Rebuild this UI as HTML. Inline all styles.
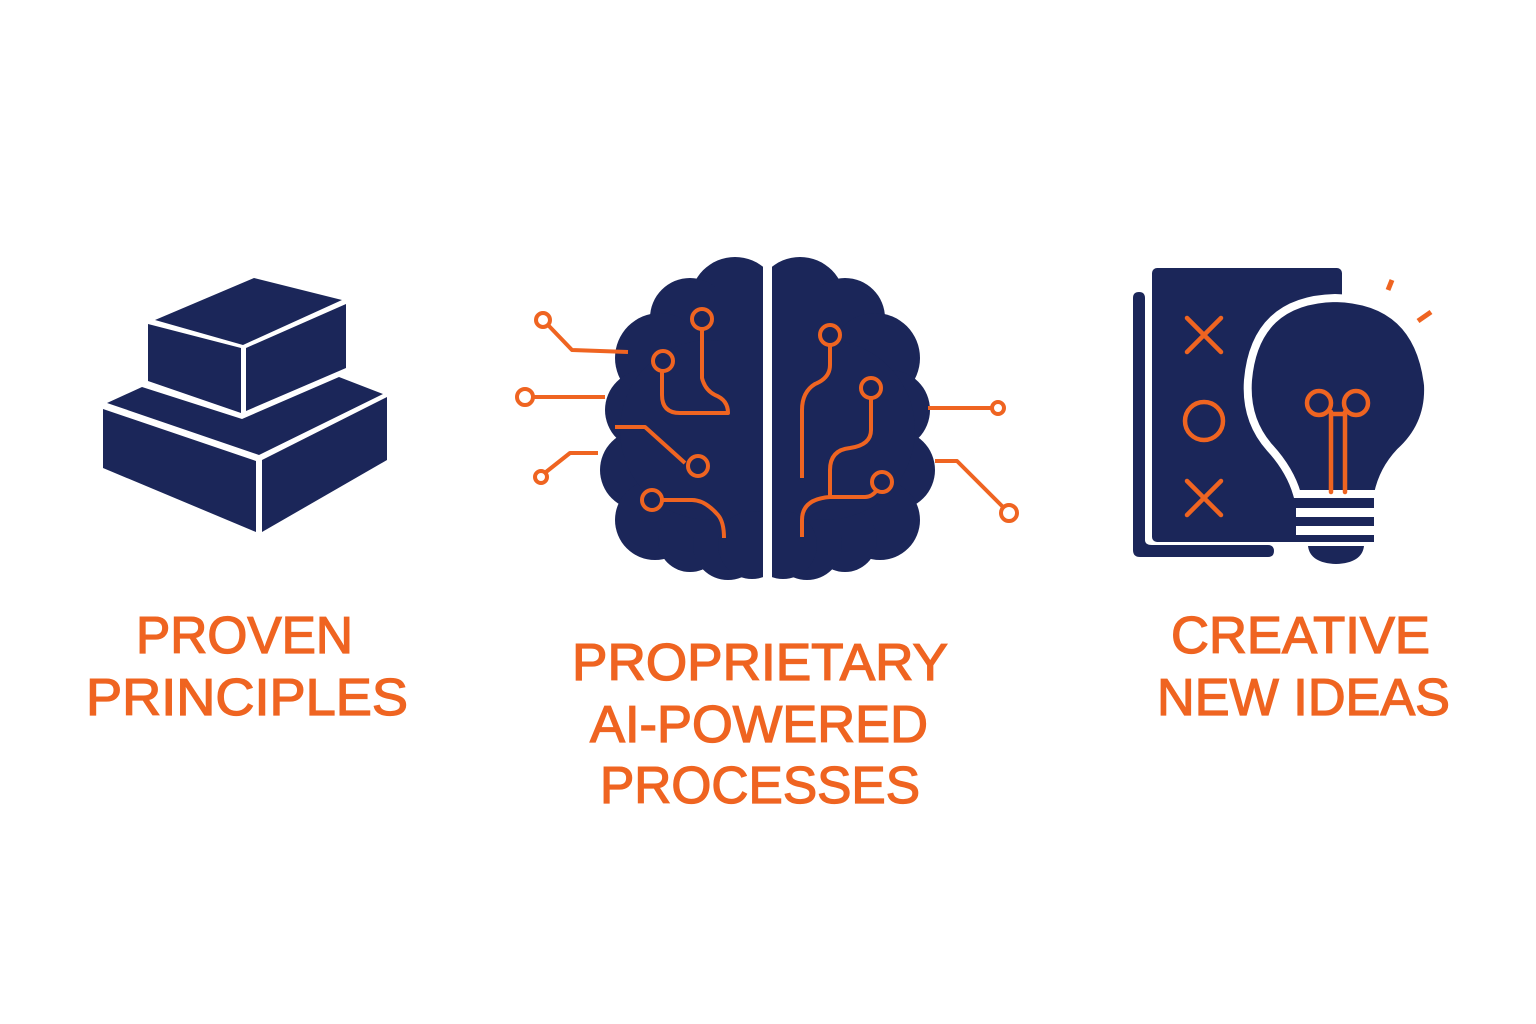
<!DOCTYPE html>
<html><head><meta charset="utf-8"><style>
html,body{margin:0;padding:0;background:#fff;}
svg{display:block;}
text{font-family:"Liberation Sans",sans-serif;fill:#ef6421;stroke:#ef6421;stroke-width:1.3px;font-size:52px;}
</style></head><body>
<svg width="1536" height="1024" viewBox="0 0 1536 1024" xmlns="http://www.w3.org/2000/svg">
<defs>
<clipPath id="cl"><rect x="580" y="240" width="183" height="360"/></clipPath>
<clipPath id="cr"><rect x="772" y="240" width="183" height="360"/></clipPath>
</defs>
<g fill="#1b2659">
<polygon points="107,403 142,387 242,419 339,377 383,394 259,455"/>
<polygon points="103,409 256,461 256,532 103,468"/>
<polygon points="262,460 387,397 387,460 262,532"/>
<polygon points="155,320 254,278 342,300 243,345"/>
<polygon points="148,324 241,348 241,413 148,381"/>
<polygon points="246,348 346,304 346,368 246,411"/>
</g>
<g fill="#1b2659" clip-path="url(#cl)">
<circle cx="735" cy="302" r="45"/><circle cx="690" cy="318" r="40"/><circle cx="660" cy="358" r="45"/>
<circle cx="645" cy="410" r="40"/><circle cx="640" cy="470" r="40"/><circle cx="655" cy="520" r="40"/>
<circle cx="690" cy="540" r="32"/><circle cx="728" cy="545" r="35"/><circle cx="710" cy="430" r="90"/>
<rect x="720" y="270" width="60" height="265"/><circle cx="752" cy="545" r="34"/>
</g>
<g fill="#1b2659" clip-path="url(#cr)">
<circle cx="800" cy="302" r="45"/><circle cx="845" cy="318" r="40"/><circle cx="875" cy="358" r="45"/>
<circle cx="890" cy="410" r="40"/><circle cx="895" cy="470" r="40"/><circle cx="880" cy="520" r="40"/>
<circle cx="845" cy="540" r="32"/><circle cx="807" cy="545" r="35"/><circle cx="825" cy="430" r="90"/>
<rect x="760" y="270" width="55" height="265"/><circle cx="783" cy="545" r="34"/>
</g>
<g fill="none" stroke="#ef6421" stroke-width="4" stroke-linejoin="round">
<circle cx="543" cy="320" r="7"/><path d="M548,325 L572,350 L628,352"/>
<circle cx="525" cy="397" r="8"/><path d="M533,397 L605,397"/>
<path d="M615,427 L645,427 L685,463"/><circle cx="698" cy="466" r="10"/>
<circle cx="541" cy="477" r="6"/><path d="M546,472 L570,453 L598,453"/>
<circle cx="702" cy="319" r="10"/><path d="M702,329 L702,378 Q705,390 715,395 Q728,400 728,413 L680,413 Q662,413 662,395 L662,371"/><circle cx="663" cy="361" r="10"/>
<circle cx="652" cy="500" r="10"/><path d="M662,500 L692,500 Q705,500 718,515 Q724,522 724,538"/>
<circle cx="830" cy="335" r="10"/><path d="M830,345 L830,365 Q830,378 815,384 Q802,392 802,410 L802,478"/>
<circle cx="871" cy="388" r="10"/><path d="M871,398 L871,430 Q871,445 850,448 Q830,450 830,470 L830,497"/>
<path d="M830,497 L865,497 Q872,497 877,490"/><circle cx="882" cy="482" r="10"/>
<path d="M830,497 Q802,499 802,520 L802,537"/>
<path d="M928,408 L992,408"/><circle cx="998" cy="408" r="6"/>
<path d="M935,461 L957,461 L1003,507"/><circle cx="1009" cy="513" r="8"/>
</g>
<g fill="#1b2659">
<path d="M1133,298 Q1133,292 1139,292 Q1145,292 1145,298 L1145,540 Q1145,545 1152,545 L1268,545 Q1274,545 1274,551 Q1274,557 1268,557 L1140,557 Q1133,557 1133,550 Z"/>
<rect x="1152" y="268" width="190" height="274" rx="5"/>
</g>
<path d="M1297,494 Q1290,470 1270,448 Q1245,420 1248,380 Q1255,300 1335,298 Q1418,300 1428,385 Q1430,425 1400,452 Q1383,470 1378,494 Z" fill="#1b2659" stroke="#fff" stroke-width="8"/>
<g fill="#fff">
<rect x="1296" y="508" width="78" height="9"/><rect x="1296" y="526" width="78" height="9"/><rect x="1296" y="542" width="78" height="4"/>
</g>
<g fill="#1b2659">
<rect x="1300" y="498" width="74" height="10"/><rect x="1300" y="517" width="74" height="9"/><rect x="1300" y="535" width="74" height="7"/>
<path d="M1308,546 L1364,546 Q1362,563 1336,564 Q1310,563 1308,546 Z"/>
</g>
<g fill="none" stroke="#ef6421" stroke-width="4.5" stroke-linecap="round">
<path d="M1187,318 L1221,352 M1221,318 L1187,352"/>
<circle cx="1204" cy="421" r="19"/>
<path d="M1187,481 L1221,515 M1221,481 L1187,515"/>
<circle cx="1319" cy="403" r="12"/><circle cx="1356" cy="403" r="12"/>
<path d="M1331,412 L1331,492 M1345,412 L1345,492 M1331,414 L1345,414"/>
<path d="M1388,290 L1392,280" stroke-width="5" stroke-linecap="butt"/>
<path d="M1418,321 L1431,312" stroke-width="5" stroke-linecap="butt"/>
</g>
<text x="136" y="653" textLength="217" lengthAdjust="spacingAndGlyphs">PROVEN</text>
<text x="86" y="715" textLength="322" lengthAdjust="spacingAndGlyphs">PRINCIPLES</text>
<text x="572" y="680" textLength="376" lengthAdjust="spacingAndGlyphs">PROPRIETARY</text>
<text x="590" y="742" textLength="338" lengthAdjust="spacingAndGlyphs">AI-POWERED</text>
<text x="600" y="803" textLength="320" lengthAdjust="spacingAndGlyphs">PROCESSES</text>
<text x="1171" y="653" textLength="259" lengthAdjust="spacingAndGlyphs">CREATIVE</text>
<text x="1157" y="715" textLength="293" lengthAdjust="spacingAndGlyphs">NEW IDEAS</text>
</svg>
</body></html>
